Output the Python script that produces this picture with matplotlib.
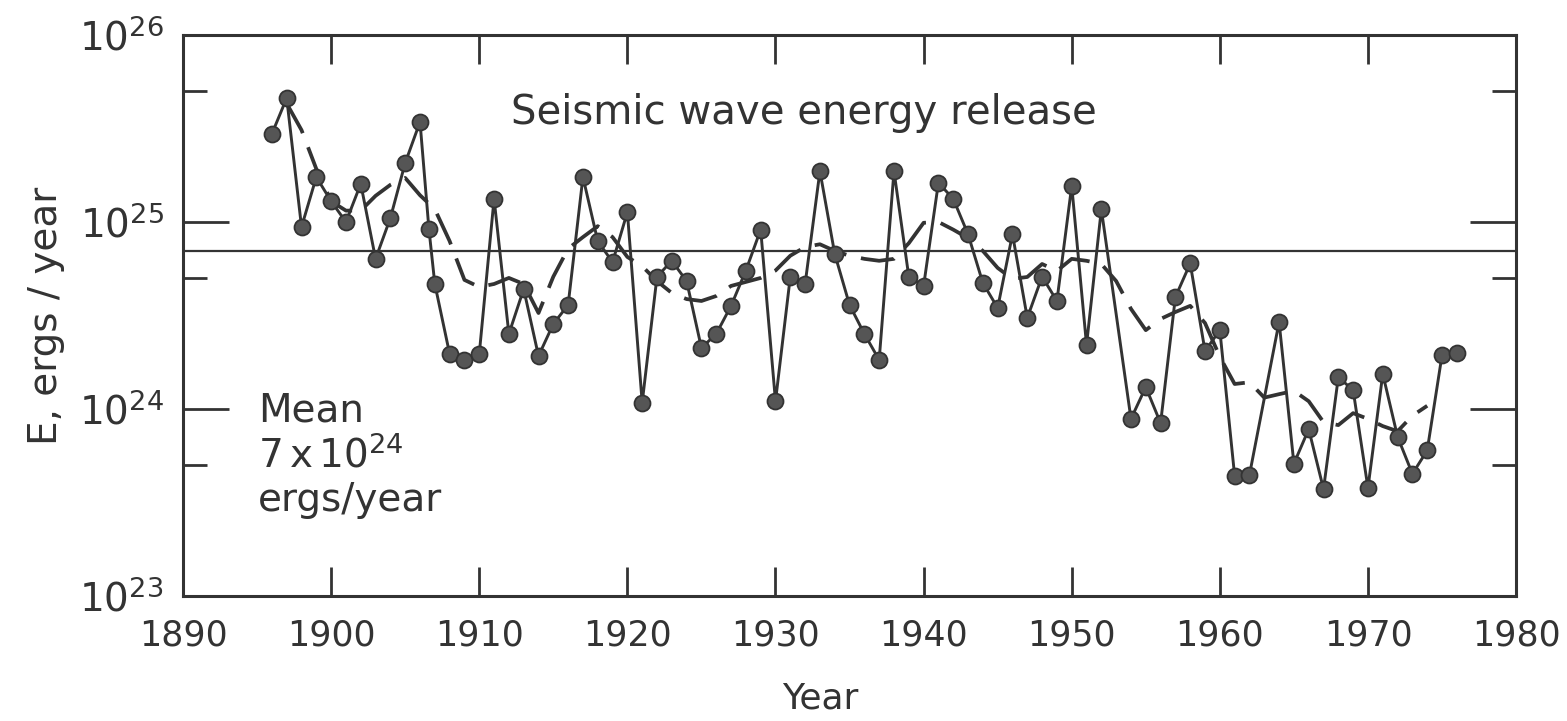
import matplotlib
matplotlib.use("Agg")
import matplotlib.pyplot as plt
from matplotlib.ticker import FixedLocator, FixedFormatter, NullFormatter

plt.rcParams['font.family'] = ['DejaVu Sans']
plt.rcParams['mathtext.fontset'] = 'dejavusans'

INK = '#333333'

# yearly seismic wave energy release (ergs/year)
years = [1896, 1897, 1898, 1899, 1900, 1901, 1902, 1903, 1904, 1905,
         1906, 1906.6, 1907, 1908, 1909, 1910, 1911, 1912, 1913, 1914,
         1915, 1916, 1917, 1918, 1919, 1920, 1921, 1922, 1923, 1924,
         1925, 1926, 1927, 1928, 1929, 1930, 1931, 1932, 1933, 1934,
         1935, 1936, 1937, 1938, 1939, 1940, 1941, 1942, 1943, 1944,
         1945, 1946, 1947, 1948, 1949, 1950, 1951, 1952, 1954, 1955,
         1956, 1957, 1958, 1959, 1960, 1961, 1962, 1964, 1965, 1966,
         1967, 1968, 1969, 1970, 1971, 1972, 1973, 1974, 1975, 1976]
energy = [2.96e25, 4.6e25, 9.4e24, 1.74e25, 1.29e25, 1.0e25, 1.6e25, 6.35e24, 1.05e25, 2.07e25,
          3.43e25, 9.2e24, 4.66e24, 1.97e24, 1.83e24, 1.97e24, 1.33e25, 2.52e24, 4.38e24, 1.92e24,
          2.85e24, 3.6e24, 1.74e25, 7.9e24, 6.1e24, 1.13e25, 1.08e24, 5.1e24, 6.2e24, 4.83e24,
          2.12e24, 2.52e24, 3.56e24, 5.5e24, 9.1e24, 1.10e24, 5.1e24, 4.66e24, 1.87e25, 6.75e24,
          3.6e24, 2.52e24, 1.83e24, 1.87e25, 5.1e24, 4.55e24, 1.62e25, 1.33e25, 8.6e24, 4.72e24,
          3.47e24, 8.6e24, 3.07e24, 5.1e24, 3.78e24, 1.56e25, 2.2e24, 1.17e25, 8.85e23, 1.31e24,
          8.4e23, 3.97e24, 6.0e24, 2.04e24, 2.64e24, 4.38e23, 4.44e23, 2.92e24, 5.1e23, 7.8e23,
          3.73e23, 1.48e24, 1.26e24, 3.78e23, 1.54e24, 7.1e23, 4.5e23, 6.0e23, 1.94e24, 1.99e24]

# running mean (dashed curve)
mean_years = list(range(1897, 1975))
running_mean = [4.3e25, 3.1e25, 1.92e25, 1.29e25, 1.15e25, 1.15e25, 1.38e25, 1.58e25, 1.72e25, 1.39e25,
                1.17e25, 7.9e24, 4.9e24, 4.49e24, 4.66e24, 5.02e24, 4.66e24, 3.26e24, 5.1e24, 7.2e24,
                8.3e24, 9.5e24, 8.3e24, 6.5e24, 5.8e24, 4.83e24, 4.17e24, 3.87e24, 3.78e24, 4.02e24,
                4.55e24, 4.78e24, 5.02e24, 5.5e24, 6.6e24, 7.35e24, 7.6e24, 7.0e24, 6.6e24, 6.35e24,
                6.2e24, 6.35e24, 7.7e24, 9.9e24, 1.0e25, 9.1e24, 8.2e24, 7.0e24, 5.68e24, 4.96e24,
                5.08e24, 5.96e24, 5.47e24, 6.35e24, 6.2e24, 5.96e24, 4.83e24, 3.43e24, 2.64e24, 3.03e24,
                3.3e24, 3.56e24, 2.88e24, 1.9e24, 1.36e24, 1.39e24, 1.15e24, 1.2e24, 1.25e24, 1.1e24,
                8.5e23, 8.2e23, 9.5e23, 8.85e23, 8.1e23, 7.6e23, 9.2e23, 1.04e24]

overall_mean = 7e24

x_ticks = [1890, 1900, 1910, 1920, 1930, 1940, 1950, 1960, 1970, 1980]
y_major = [1e23, 1e24, 1e25, 1e26]
y_major_labels = ['$10^{23}$', '$10^{24}$', '$10^{25}$', '$10^{26}$']
y_minor = [5e23, 5e24, 5e25]

fig = plt.figure(figsize=(15.67, 7.21), dpi=100)
ax = fig.add_axes([0.1168, 0.1734, 0.8507, 0.7781])

ax.axhline(overall_mean, color=INK, lw=1.6, zorder=1)
ax.plot(mean_years, running_mean, color=INK, lw=2.7, dashes=(9, 4), zorder=2)
ax.plot(years, energy, color=INK, lw=2.1, marker='o', ms=11.5,
        markerfacecolor='#555555', markeredgecolor=INK, markeredgewidth=1.3, zorder=3)

ax.set_yscale('log')
ax.set_xlim(1890, 1980)
ax.set_ylim(1e23, 1e26)

ax.xaxis.set_major_locator(FixedLocator(x_ticks))
ax.yaxis.set_major_locator(FixedLocator(y_major))
ax.yaxis.set_major_formatter(FixedFormatter(y_major_labels))
ax.yaxis.set_minor_locator(FixedLocator(y_minor))
ax.yaxis.set_minor_formatter(NullFormatter())

ax.tick_params(axis='x', which='major', direction='in', top=True, length=21, width=2,
               color=INK, labelsize=25, labelcolor=INK, pad=16)
ax.tick_params(axis='y', which='major', direction='in', right=True, length=33, width=2,
               color=INK, labelsize=28, labelcolor=INK, pad=14)
ax.tick_params(axis='y', which='minor', direction='in', right=True, length=17, width=2,
               color=INK)
for sp in ax.spines.values():
    sp.set_linewidth(2.2)
    sp.set_color(INK)

ax.set_xlabel('Year', fontsize=26, color=INK)
ax.xaxis.set_label_coords(0.478, -0.153)
ax.set_ylabel('E, ergs / year', fontsize=28, color=INK, labelpad=10)

ax.text(0.466, 0.861, 'Seismic wave energy release', transform=ax.transAxes,
        fontsize=29, color=INK, ha='center', va='center')
ax.text(0.056, 0.365, 'Mean\n$7\\,$x$\\,10^{24}$\nergs/year', transform=ax.transAxes,
        fontsize=28, color=INK, ha='left', va='top', linespacing=1.2)

fig.savefig('out.png', dpi=100)
